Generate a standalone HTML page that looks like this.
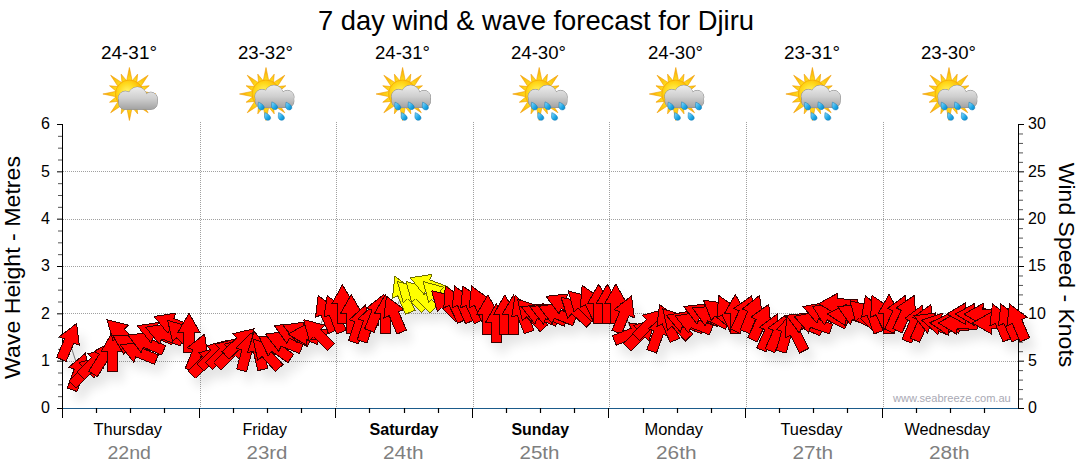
<!DOCTYPE html><html><head><meta charset="utf-8"><title>7 day wind &amp; wave forecast for Djiru</title>
<style>html,body{margin:0;padding:0;background:#fff;}body{width:1080px;height:475px;overflow:hidden;font-family:"Liberation Sans",sans-serif;}svg{display:block;}text{font-family:"Liberation Sans",sans-serif;}</style></head><body>
<svg width="1080" height="475" viewBox="0 0 1080 475">
<defs>
<filter id="sh" x="-5%" y="-30%" width="110%" height="180%"><feGaussianBlur stdDeviation="5.5"/></filter>
<radialGradient id="sunG" cx="0.42" cy="0.42" r="0.62"><stop offset="0" stop-color="#fff36a"/><stop offset="0.5" stop-color="#ffd81a"/><stop offset="1" stop-color="#fbaa00"/></radialGradient>
<radialGradient id="rayG" gradientUnits="userSpaceOnUse" cx="0" cy="0" r="27"><stop offset="0.5" stop-color="#ffdc1e"/><stop offset="1" stop-color="#f7a800"/></radialGradient>
<linearGradient id="cloudG" x1="0" y1="0" x2="0" y2="1"><stop offset="0" stop-color="#e4e4e4"/><stop offset="0.55" stop-color="#c4c4c4"/><stop offset="1" stop-color="#8f8f8f"/></linearGradient>
<linearGradient id="dropG" x1="0" y1="0" x2="1" y2="1"><stop offset="0" stop-color="#8fdcff"/><stop offset="0.6" stop-color="#1da7e6"/><stop offset="1" stop-color="#0b7fc0"/></linearGradient>
<path id="ar" d="M0,-19 L10.9,0 L5.1,0 L5.1,20 L-5.1,20 L-5.1,0 L-10.9,0 Z"/>
<g id="sun">
<path fill="url(#rayG)" stroke="#f09a00" stroke-width="0.6" stroke-linejoin="round" d="M-2.71,-13.33L0.00,-26.50L2.71,-13.33ZM2.83,-13.30L8.23,-19.86L7.41,-11.41ZM7.51,-11.34L18.74,-18.74L11.34,-7.51ZM11.41,-7.41L19.86,-8.23L13.30,-2.83ZM13.33,-2.71L26.50,0.00L13.33,2.71ZM13.30,2.83L19.86,8.23L11.41,7.41ZM11.34,7.51L18.74,18.74L7.51,11.34ZM7.41,11.41L8.23,19.86L2.83,13.30ZM2.71,13.33L0.00,26.50L-2.71,13.33ZM-2.83,13.30L-8.23,19.86L-7.41,11.41ZM-7.51,11.34L-18.74,18.74L-11.34,7.51ZM-11.41,7.41L-19.86,8.23L-13.30,2.83ZM-13.33,2.71L-26.50,0.00L-13.33,-2.71ZM-13.30,-2.83L-19.86,-8.23L-11.41,-7.41ZM-11.34,-7.51L-18.74,-18.74L-7.51,-11.34ZM-7.41,-11.41L-8.23,-19.86L-2.83,-13.30Z"/>
<circle r="14" fill="url(#sunG)" stroke="#f5a800" stroke-width="0.7"/>
</g>
<linearGradient id="cloudG2" gradientUnits="userSpaceOnUse" x1="0" y1="-7" x2="0" y2="15.5"><stop offset="0" stop-color="#ececec"/><stop offset="0.5" stop-color="#cfcfcf"/><stop offset="1" stop-color="#a2a2a2"/></linearGradient>
<g id="cloudshape"><circle cx="-4" cy="4.2" r="7"/><circle cx="8" cy="2.5" r="9.4"/><circle cx="21.4" cy="4.8" r="6.6"/><rect x="-10.6" y="2" width="38.4" height="13.3" rx="6" ry="6"/></g>
<g id="cloud">
<use href="#cloudshape" fill="#8d8d8d" stroke="#8d8d8d" stroke-width="1"/>
<use href="#cloudshape" fill="url(#cloudG2)"/>
</g>
<path id="drop" fill="url(#dropG)" stroke="#0e78b4" stroke-width="0.5" d="M-2.7,-3.9 C-0.8,-3.3 2.2,-1.6 3.0,0.6 C3.8,2.9 1.6,4.3 -0.4,3.7 C-2.6,3.1 -3.2,1.2 -3.0,-0.6 C-2.9,-1.8 -2.8,-2.9 -2.7,-3.9 Z"/>
</defs>
<use href="#sun" x="129.4" y="94"/>
<use href="#cloud" x="129.4" y="94"/>
<use href="#sun" x="266.0" y="94"/>
<use href="#cloud" x="266.0" y="92.2"/>
<use href="#drop" x="261.1" y="106.1"/>
<use href="#drop" x="274.5" y="105.8"/>
<use href="#drop" x="288.7" y="106.1"/>
<use href="#drop" x="267.5" y="116.5"/>
<use href="#drop" x="281.3" y="116.5"/>
<use href="#sun" x="402.6" y="94"/>
<use href="#cloud" x="402.6" y="92.2"/>
<use href="#drop" x="397.7" y="106.1"/>
<use href="#drop" x="411.1" y="105.8"/>
<use href="#drop" x="425.3" y="106.1"/>
<use href="#drop" x="404.1" y="116.5"/>
<use href="#drop" x="417.9" y="116.5"/>
<use href="#sun" x="539.2" y="94"/>
<use href="#cloud" x="539.2" y="92.2"/>
<use href="#drop" x="534.3" y="106.1"/>
<use href="#drop" x="547.7" y="105.8"/>
<use href="#drop" x="561.9" y="106.1"/>
<use href="#drop" x="540.7" y="116.5"/>
<use href="#drop" x="554.5" y="116.5"/>
<use href="#sun" x="675.8" y="94"/>
<use href="#cloud" x="675.8" y="92.2"/>
<use href="#drop" x="670.9" y="106.1"/>
<use href="#drop" x="684.3" y="105.8"/>
<use href="#drop" x="698.5" y="106.1"/>
<use href="#drop" x="677.3" y="116.5"/>
<use href="#drop" x="691.1" y="116.5"/>
<use href="#sun" x="812.4" y="94"/>
<use href="#cloud" x="812.4" y="92.2"/>
<use href="#drop" x="807.5" y="106.1"/>
<use href="#drop" x="820.9" y="105.8"/>
<use href="#drop" x="835.1" y="106.1"/>
<use href="#drop" x="813.9" y="116.5"/>
<use href="#drop" x="827.7" y="116.5"/>
<use href="#sun" x="949.0" y="94"/>
<use href="#cloud" x="949.0" y="92.2"/>
<use href="#drop" x="944.1" y="106.1"/>
<use href="#drop" x="957.5" y="105.8"/>
<use href="#drop" x="971.7" y="106.1"/>
<use href="#drop" x="950.5" y="116.5"/>
<use href="#drop" x="964.3" y="116.5"/>
<line x1="63" x2="1018" y1="361.5" y2="361.5" stroke="#a0a0a0" stroke-width="1" stroke-dasharray="1,1" shape-rendering="crispEdges"/>
<line x1="63" x2="1018" y1="313.5" y2="313.5" stroke="#a0a0a0" stroke-width="1" stroke-dasharray="1,1" shape-rendering="crispEdges"/>
<line x1="63" x2="1018" y1="266.5" y2="266.5" stroke="#a0a0a0" stroke-width="1" stroke-dasharray="1,1" shape-rendering="crispEdges"/>
<line x1="63" x2="1018" y1="219.5" y2="219.5" stroke="#a0a0a0" stroke-width="1" stroke-dasharray="1,1" shape-rendering="crispEdges"/>
<line x1="63" x2="1018" y1="171.5" y2="171.5" stroke="#a0a0a0" stroke-width="1" stroke-dasharray="1,1" shape-rendering="crispEdges"/>
<line x1="200.5" x2="200.5" y1="122" y2="408" stroke="#a0a0a0" stroke-width="1" stroke-dasharray="1,1" shape-rendering="crispEdges"/>
<line x1="336.5" x2="336.5" y1="122" y2="408" stroke="#a0a0a0" stroke-width="1" stroke-dasharray="1,1" shape-rendering="crispEdges"/>
<line x1="473.5" x2="473.5" y1="122" y2="408" stroke="#a0a0a0" stroke-width="1" stroke-dasharray="1,1" shape-rendering="crispEdges"/>
<line x1="609.5" x2="609.5" y1="122" y2="408" stroke="#a0a0a0" stroke-width="1" stroke-dasharray="1,1" shape-rendering="crispEdges"/>
<line x1="746.5" x2="746.5" y1="122" y2="408" stroke="#a0a0a0" stroke-width="1" stroke-dasharray="1,1" shape-rendering="crispEdges"/>
<line x1="883.5" x2="883.5" y1="122" y2="408" stroke="#a0a0a0" stroke-width="1" stroke-dasharray="1,1" shape-rendering="crispEdges"/>
<line x1="62" x2="1019" y1="408.5" y2="408.5" stroke="#1b5b8b" stroke-width="1"/>
<line x1="62.5" x2="62.5" y1="124" y2="409" stroke="#000" stroke-width="1"/>
<line x1="1018.5" x2="1018.5" y1="124" y2="409" stroke="#000" stroke-width="1"/>
<line x1="57" x2="63" y1="408.50" y2="408.50" stroke="#000" stroke-width="1"/>
<text x="50" y="413.4" font-size="16" text-anchor="end" fill="#000">0</text>
<line x1="58" x2="62" y1="396.67" y2="396.67" stroke="#555" stroke-width="1"/>
<line x1="58" x2="62" y1="384.83" y2="384.83" stroke="#555" stroke-width="1"/>
<line x1="58" x2="62" y1="373.00" y2="373.00" stroke="#555" stroke-width="1"/>
<line x1="57" x2="63" y1="361.17" y2="361.17" stroke="#000" stroke-width="1"/>
<text x="50" y="366.1" font-size="16" text-anchor="end" fill="#000">1</text>
<line x1="58" x2="62" y1="349.33" y2="349.33" stroke="#555" stroke-width="1"/>
<line x1="58" x2="62" y1="337.50" y2="337.50" stroke="#555" stroke-width="1"/>
<line x1="58" x2="62" y1="325.67" y2="325.67" stroke="#555" stroke-width="1"/>
<line x1="57" x2="63" y1="313.83" y2="313.83" stroke="#000" stroke-width="1"/>
<text x="50" y="318.7" font-size="16" text-anchor="end" fill="#000">2</text>
<line x1="58" x2="62" y1="302.00" y2="302.00" stroke="#555" stroke-width="1"/>
<line x1="58" x2="62" y1="290.17" y2="290.17" stroke="#555" stroke-width="1"/>
<line x1="58" x2="62" y1="278.33" y2="278.33" stroke="#555" stroke-width="1"/>
<line x1="57" x2="63" y1="266.50" y2="266.50" stroke="#000" stroke-width="1"/>
<text x="50" y="271.4" font-size="16" text-anchor="end" fill="#000">3</text>
<line x1="58" x2="62" y1="254.67" y2="254.67" stroke="#555" stroke-width="1"/>
<line x1="58" x2="62" y1="242.83" y2="242.83" stroke="#555" stroke-width="1"/>
<line x1="58" x2="62" y1="231.00" y2="231.00" stroke="#555" stroke-width="1"/>
<line x1="57" x2="63" y1="219.17" y2="219.17" stroke="#000" stroke-width="1"/>
<text x="50" y="224.1" font-size="16" text-anchor="end" fill="#000">4</text>
<line x1="58" x2="62" y1="207.33" y2="207.33" stroke="#555" stroke-width="1"/>
<line x1="58" x2="62" y1="195.50" y2="195.50" stroke="#555" stroke-width="1"/>
<line x1="58" x2="62" y1="183.67" y2="183.67" stroke="#555" stroke-width="1"/>
<line x1="57" x2="63" y1="171.83" y2="171.83" stroke="#000" stroke-width="1"/>
<text x="50" y="176.7" font-size="16" text-anchor="end" fill="#000">5</text>
<line x1="58" x2="62" y1="160.00" y2="160.00" stroke="#555" stroke-width="1"/>
<line x1="58" x2="62" y1="148.17" y2="148.17" stroke="#555" stroke-width="1"/>
<line x1="58" x2="62" y1="136.33" y2="136.33" stroke="#555" stroke-width="1"/>
<line x1="57" x2="63" y1="124.50" y2="124.50" stroke="#000" stroke-width="1"/>
<text x="50" y="129.4" font-size="16" text-anchor="end" fill="#000">6</text>
<line x1="1018" x2="1024" y1="408.50" y2="408.50" stroke="#000" stroke-width="1"/>
<text x="1028" y="413.4" font-size="16" text-anchor="start" fill="#000">0</text>
<line x1="1019" x2="1023" y1="399.03" y2="399.03" stroke="#555" stroke-width="1"/>
<line x1="1019" x2="1023" y1="389.57" y2="389.57" stroke="#555" stroke-width="1"/>
<line x1="1019" x2="1023" y1="380.10" y2="380.10" stroke="#555" stroke-width="1"/>
<line x1="1019" x2="1023" y1="370.63" y2="370.63" stroke="#555" stroke-width="1"/>
<line x1="1018" x2="1024" y1="361.17" y2="361.17" stroke="#000" stroke-width="1"/>
<text x="1028" y="366.1" font-size="16" text-anchor="start" fill="#000">5</text>
<line x1="1019" x2="1023" y1="351.70" y2="351.70" stroke="#555" stroke-width="1"/>
<line x1="1019" x2="1023" y1="342.23" y2="342.23" stroke="#555" stroke-width="1"/>
<line x1="1019" x2="1023" y1="332.77" y2="332.77" stroke="#555" stroke-width="1"/>
<line x1="1019" x2="1023" y1="323.30" y2="323.30" stroke="#555" stroke-width="1"/>
<line x1="1018" x2="1024" y1="313.83" y2="313.83" stroke="#000" stroke-width="1"/>
<text x="1028" y="318.7" font-size="16" text-anchor="start" fill="#000">10</text>
<line x1="1019" x2="1023" y1="304.37" y2="304.37" stroke="#555" stroke-width="1"/>
<line x1="1019" x2="1023" y1="294.90" y2="294.90" stroke="#555" stroke-width="1"/>
<line x1="1019" x2="1023" y1="285.43" y2="285.43" stroke="#555" stroke-width="1"/>
<line x1="1019" x2="1023" y1="275.97" y2="275.97" stroke="#555" stroke-width="1"/>
<line x1="1018" x2="1024" y1="266.50" y2="266.50" stroke="#000" stroke-width="1"/>
<text x="1028" y="271.4" font-size="16" text-anchor="start" fill="#000">15</text>
<line x1="1019" x2="1023" y1="257.03" y2="257.03" stroke="#555" stroke-width="1"/>
<line x1="1019" x2="1023" y1="247.57" y2="247.57" stroke="#555" stroke-width="1"/>
<line x1="1019" x2="1023" y1="238.10" y2="238.10" stroke="#555" stroke-width="1"/>
<line x1="1019" x2="1023" y1="228.63" y2="228.63" stroke="#555" stroke-width="1"/>
<line x1="1018" x2="1024" y1="219.17" y2="219.17" stroke="#000" stroke-width="1"/>
<text x="1028" y="224.1" font-size="16" text-anchor="start" fill="#000">20</text>
<line x1="1019" x2="1023" y1="209.70" y2="209.70" stroke="#555" stroke-width="1"/>
<line x1="1019" x2="1023" y1="200.23" y2="200.23" stroke="#555" stroke-width="1"/>
<line x1="1019" x2="1023" y1="190.77" y2="190.77" stroke="#555" stroke-width="1"/>
<line x1="1019" x2="1023" y1="181.30" y2="181.30" stroke="#555" stroke-width="1"/>
<line x1="1018" x2="1024" y1="171.83" y2="171.83" stroke="#000" stroke-width="1"/>
<text x="1028" y="176.7" font-size="16" text-anchor="start" fill="#000">25</text>
<line x1="1019" x2="1023" y1="162.37" y2="162.37" stroke="#555" stroke-width="1"/>
<line x1="1019" x2="1023" y1="152.90" y2="152.90" stroke="#555" stroke-width="1"/>
<line x1="1019" x2="1023" y1="143.43" y2="143.43" stroke="#555" stroke-width="1"/>
<line x1="1019" x2="1023" y1="133.97" y2="133.97" stroke="#555" stroke-width="1"/>
<line x1="1018" x2="1024" y1="124.50" y2="124.50" stroke="#000" stroke-width="1"/>
<text x="1028" y="129.4" font-size="16" text-anchor="start" fill="#000">30</text>
<g filter="url(#sh)" opacity="0.105" fill="#000">
<use href="#ar" transform="translate(75.2,351.0) rotate(23.0)"/>
<use href="#ar" transform="translate(85.0,381.0) rotate(20.0)"/>
<use href="#ar" transform="translate(92.6,380.4) rotate(45.0)"/>
<use href="#ar" transform="translate(101.1,371.6) rotate(45.0)"/>
<use href="#ar" transform="translate(109.6,367.0) rotate(32.0)"/>
<use href="#ar" transform="translate(118.2,361.3) rotate(0.0)"/>
<use href="#ar" transform="translate(126.7,343.0) rotate(-46.0)"/>
<use href="#ar" transform="translate(135.3,355.0) rotate(-60.0)"/>
<use href="#ar" transform="translate(143.8,362.1) rotate(-68.0)"/>
<use href="#ar" transform="translate(151.3,352.5) rotate(-67.0)"/>
<use href="#ar" transform="translate(160.9,342.6) rotate(-69.0)"/>
<use href="#ar" transform="translate(169.4,344.0) rotate(-69.0)"/>
<use href="#ar" transform="translate(177.9,333.3) rotate(-69.0)"/>
<use href="#ar" transform="translate(186.5,344.1) rotate(-43.0)"/>
<use href="#ar" transform="translate(195.0,342.2) rotate(0.0)"/>
<use href="#ar" transform="translate(203.5,361.7) rotate(22.0)"/>
<use href="#ar" transform="translate(212.1,370.6) rotate(45.0)"/>
<use href="#ar" transform="translate(220.6,363.5) rotate(45.0)"/>
<use href="#ar" transform="translate(229.1,362.0) rotate(45.0)"/>
<use href="#ar" transform="translate(237.7,362.0) rotate(45.0)"/>
<use href="#ar" transform="translate(246.2,351.7) rotate(47.0)"/>
<use href="#ar" transform="translate(252.8,361.0) rotate(15.0)"/>
<use href="#ar" transform="translate(264.3,360.0) rotate(-13.0)"/>
<use href="#ar" transform="translate(271.8,363.1) rotate(-42.0)"/>
<use href="#ar" transform="translate(280.4,357.0) rotate(-55.0)"/>
<use href="#ar" transform="translate(288.9,351.3) rotate(-68.0)"/>
<use href="#ar" transform="translate(297.4,343.5) rotate(-65.0)"/>
<use href="#ar" transform="translate(306.5,342.2) rotate(-68.0)"/>
<use href="#ar" transform="translate(313.0,344.5) rotate(-89.0)"/>
<use href="#ar" transform="translate(323.0,343.0) rotate(-45.0)"/>
<use href="#ar" transform="translate(331.6,323.0) rotate(-23.0)"/>
<use href="#ar" transform="translate(340.1,323.2) rotate(-21.0)"/>
<use href="#ar" transform="translate(348.7,313.8) rotate(-1.0)"/>
<use href="#ar" transform="translate(357.2,323.7) rotate(0.0)"/>
<use href="#ar" transform="translate(365.7,333.1) rotate(18.0)"/>
<use href="#ar" transform="translate(374.3,332.3) rotate(18.0)"/>
<use href="#ar" transform="translate(382.8,322.0) rotate(22.0)"/>
<use href="#ar" transform="translate(391.3,323.5) rotate(0.0)"/>
<use href="#ar" transform="translate(399.9,323.7) rotate(-23.0)"/>
<use href="#ar" transform="translate(408.4,303.9) rotate(-23.0)"/>
<use href="#ar" transform="translate(416.9,305.0) rotate(-45.0)"/>
<use href="#ar" transform="translate(425.5,305.0) rotate(-45.0)"/>
<use href="#ar" transform="translate(434.0,294.6) rotate(-69.0)"/>
<use href="#ar" transform="translate(442.5,305.0) rotate(-45.0)"/>
<use href="#ar" transform="translate(451.1,314.0) rotate(-45.0)"/>
<use href="#ar" transform="translate(459.6,313.1) rotate(-26.0)"/>
<use href="#ar" transform="translate(468.2,313.4) rotate(-23.6)"/>
<use href="#ar" transform="translate(476.7,313.4) rotate(-24.0)"/>
<use href="#ar" transform="translate(485.2,313.4) rotate(-24.0)"/>
<use href="#ar" transform="translate(493.8,324.0) rotate(0.0)"/>
<use href="#ar" transform="translate(502.3,332.5) rotate(0.0)"/>
<use href="#ar" transform="translate(510.8,324.0) rotate(0.0)"/>
<use href="#ar" transform="translate(519.4,324.0) rotate(0.0)"/>
<use href="#ar" transform="translate(527.9,323.3) rotate(-21.0)"/>
<use href="#ar" transform="translate(536.4,323.4) rotate(-42.5)"/>
<use href="#ar" transform="translate(545.0,324.0) rotate(-68.0)"/>
<use href="#ar" transform="translate(553.5,324.0) rotate(-68.0)"/>
<use href="#ar" transform="translate(562.1,323.5) rotate(-68.0)"/>
<use href="#ar" transform="translate(569.4,314.0) rotate(-66.0)"/>
<use href="#ar" transform="translate(581.1,320.0) rotate(-48.0)"/>
<use href="#ar" transform="translate(587.7,314.3) rotate(-45.0)"/>
<use href="#ar" transform="translate(596.2,312.6) rotate(-25.0)"/>
<use href="#ar" transform="translate(604.7,313.2) rotate(0.0)"/>
<use href="#ar" transform="translate(613.3,313.2) rotate(0.0)"/>
<use href="#ar" transform="translate(621.8,313.2) rotate(0.0)"/>
<use href="#ar" transform="translate(630.3,323.7) rotate(22.0)"/>
<use href="#ar" transform="translate(638.9,343.0) rotate(68.0)"/>
<use href="#ar" transform="translate(647.4,343.0) rotate(45.0)"/>
<use href="#ar" transform="translate(655.9,333.0) rotate(45.0)"/>
<use href="#ar" transform="translate(664.5,342.5) rotate(20.0)"/>
<use href="#ar" transform="translate(673.0,332.0) rotate(-23.0)"/>
<use href="#ar" transform="translate(681.6,332.8) rotate(-42.5)"/>
<use href="#ar" transform="translate(690.1,331.8) rotate(-70.0)"/>
<use href="#ar" transform="translate(698.6,332.8) rotate(-68.6)"/>
<use href="#ar" transform="translate(707.2,324.0) rotate(-67.0)"/>
<use href="#ar" transform="translate(715.7,326.0) rotate(-65.0)"/>
<use href="#ar" transform="translate(724.2,322.0) rotate(-51.0)"/>
<use href="#ar" transform="translate(732.8,322.7) rotate(-25.0)"/>
<use href="#ar" transform="translate(741.3,323.5) rotate(0.0)"/>
<use href="#ar" transform="translate(749.8,323.0) rotate(25.0)"/>
<use href="#ar" transform="translate(758.4,323.1) rotate(22.0)"/>
<use href="#ar" transform="translate(766.9,331.6) rotate(24.6)"/>
<use href="#ar" transform="translate(775.5,341.6) rotate(23.6)"/>
<use href="#ar" transform="translate(784.0,342.4) rotate(24.0)"/>
<use href="#ar" transform="translate(792.5,342.4) rotate(15.0)"/>
<use href="#ar" transform="translate(801.1,342.8) rotate(-26.6)"/>
<use href="#ar" transform="translate(809.6,333.0) rotate(-66.0)"/>
<use href="#ar" transform="translate(818.1,332.5) rotate(-71.0)"/>
<use href="#ar" transform="translate(826.7,323.0) rotate(-70.0)"/>
<use href="#ar" transform="translate(835.2,325.0) rotate(-62.0)"/>
<use href="#ar" transform="translate(843.7,314.0) rotate(-89.0)"/>
<use href="#ar" transform="translate(852.3,325.0) rotate(-87.0)"/>
<use href="#ar" transform="translate(860.8,324.6) rotate(-65.0)"/>
<use href="#ar" transform="translate(869.3,324.0) rotate(-45.0)"/>
<use href="#ar" transform="translate(877.9,323.4) rotate(-20.0)"/>
<use href="#ar" transform="translate(886.4,322.6) rotate(-26.0)"/>
<use href="#ar" transform="translate(895.0,323.5) rotate(0.0)"/>
<use href="#ar" transform="translate(903.5,322.9) rotate(24.0)"/>
<use href="#ar" transform="translate(912.0,322.6) rotate(25.6)"/>
<use href="#ar" transform="translate(920.6,332.8) rotate(23.3)"/>
<use href="#ar" transform="translate(929.1,331.9) rotate(24.0)"/>
<use href="#ar" transform="translate(937.6,333.0) rotate(-68.0)"/>
<use href="#ar" transform="translate(946.2,334.0) rotate(-78.0)"/>
<use href="#ar" transform="translate(954.7,334.2) rotate(-86.0)"/>
<use href="#ar" transform="translate(963.2,333.5) rotate(-88.0)"/>
<use href="#ar" transform="translate(971.8,323.7) rotate(-91.0)"/>
<use href="#ar" transform="translate(980.3,324.4) rotate(-89.0)"/>
<use href="#ar" transform="translate(988.9,324.4) rotate(-89.0)"/>
<use href="#ar" transform="translate(997.4,333.0) rotate(-90.0)"/>
<use href="#ar" transform="translate(1005.9,331.5) rotate(-23.2)"/>
<use href="#ar" transform="translate(1014.5,331.4) rotate(-23.9)"/>
<use href="#ar" transform="translate(1023.0,331.5) rotate(-23.2)"/>
</g>
<polyline points="69.2,341.0 79.0,371.0 86.6,370.4 95.1,361.6 103.6,357.0 112.2,351.3 120.7,333.0 129.3,345.0 137.8,352.1 145.3,342.5 154.9,332.6 163.4,334.0 171.9,323.3 180.5,334.1 189.0,332.2 197.5,351.7 206.1,360.6 214.6,353.5 223.1,352.0 231.7,352.0 240.2,341.7 246.8,351.0 258.3,350.0 265.8,353.1 274.4,347.0 282.9,341.3 291.4,333.5 300.5,332.2 307.0,334.5 317.0,333.0 325.6,313.0 334.1,313.2 342.7,303.8 351.2,313.7 359.7,323.1 368.3,322.3 376.8,312.0 385.3,313.5 393.9,313.7 402.4,293.9 410.9,295.0 419.5,295.0 428.0,284.6 436.5,295.0 445.1,304.0 453.6,303.1 462.2,303.4 470.7,303.4 479.2,303.4 487.8,314.0 496.3,322.5 504.8,314.0 513.4,314.0 521.9,313.3 530.4,313.4 539.0,314.0 547.5,314.0 556.1,313.5 563.4,304.0 575.1,310.0 581.7,304.3 590.2,302.6 598.7,303.2 607.3,303.2 615.8,303.2 624.3,313.7 632.9,333.0 641.4,333.0 649.9,323.0 658.5,332.5 667.0,322.0 675.6,322.8 684.1,321.8 692.6,322.8 701.2,314.0 709.7,316.0 718.2,312.0 726.8,312.7 735.3,313.5 743.8,313.0 752.4,313.1 760.9,321.6 769.5,331.6 778.0,332.4 786.5,332.4 795.1,332.8 803.6,323.0 812.1,322.5 820.7,313.0 829.2,315.0 837.7,304.0 846.3,315.0 854.8,314.6 863.3,314.0 871.9,313.4 880.4,312.6 889.0,313.5 897.5,312.9 906.0,312.6 914.6,322.8 923.1,321.9 931.6,323.0 940.2,324.0 948.7,324.2 957.2,323.5 965.8,313.7 974.3,314.4 982.9,314.4 991.4,323.0 999.9,321.5 1008.5,321.4 1017.0,321.5" fill="none" stroke="#777" stroke-width="1"/>
<g stroke="#380000" stroke-width="1" stroke-linejoin="miter" shape-rendering="crispEdges">
<use href="#ar" fill="#ff0000" transform="translate(69.2,341.0) rotate(23.0)"/>
<use href="#ar" fill="#ff0000" transform="translate(79.0,371.0) rotate(20.0)"/>
<use href="#ar" fill="#ff0000" transform="translate(86.6,370.4) rotate(45.0)"/>
<use href="#ar" fill="#ff0000" transform="translate(95.1,361.6) rotate(45.0)"/>
<use href="#ar" fill="#ff0000" transform="translate(103.6,357.0) rotate(32.0)"/>
<use href="#ar" fill="#ff0000" transform="translate(112.2,351.3) rotate(0.0)"/>
<use href="#ar" fill="#ff0000" transform="translate(120.7,333.0) rotate(-46.0)"/>
<use href="#ar" fill="#ff0000" transform="translate(129.3,345.0) rotate(-60.0)"/>
<use href="#ar" fill="#ff0000" transform="translate(137.8,352.1) rotate(-68.0)"/>
<use href="#ar" fill="#ff0000" transform="translate(145.3,342.5) rotate(-67.0)"/>
<use href="#ar" fill="#ff0000" transform="translate(154.9,332.6) rotate(-69.0)"/>
<use href="#ar" fill="#ff0000" transform="translate(163.4,334.0) rotate(-69.0)"/>
<use href="#ar" fill="#ff0000" transform="translate(171.9,323.3) rotate(-69.0)"/>
<use href="#ar" fill="#ff0000" transform="translate(180.5,334.1) rotate(-43.0)"/>
<use href="#ar" fill="#ff0000" transform="translate(189.0,332.2) rotate(0.0)"/>
<use href="#ar" fill="#ff0000" transform="translate(197.5,351.7) rotate(22.0)"/>
<use href="#ar" fill="#ff0000" transform="translate(206.1,360.6) rotate(45.0)"/>
<use href="#ar" fill="#ff0000" transform="translate(214.6,353.5) rotate(45.0)"/>
<use href="#ar" fill="#ff0000" transform="translate(223.1,352.0) rotate(45.0)"/>
<use href="#ar" fill="#ff0000" transform="translate(231.7,352.0) rotate(45.0)"/>
<use href="#ar" fill="#ff0000" transform="translate(240.2,341.7) rotate(47.0)"/>
<use href="#ar" fill="#ff0000" transform="translate(246.8,351.0) rotate(15.0)"/>
<use href="#ar" fill="#ff0000" transform="translate(258.3,350.0) rotate(-13.0)"/>
<use href="#ar" fill="#ff0000" transform="translate(265.8,353.1) rotate(-42.0)"/>
<use href="#ar" fill="#ff0000" transform="translate(274.4,347.0) rotate(-55.0)"/>
<use href="#ar" fill="#ff0000" transform="translate(282.9,341.3) rotate(-68.0)"/>
<use href="#ar" fill="#ff0000" transform="translate(291.4,333.5) rotate(-65.0)"/>
<use href="#ar" fill="#ff0000" transform="translate(300.5,332.2) rotate(-68.0)"/>
<use href="#ar" fill="#ff0000" transform="translate(307.0,334.5) rotate(-89.0)"/>
<use href="#ar" fill="#ff0000" transform="translate(317.0,333.0) rotate(-45.0)"/>
<use href="#ar" fill="#ff0000" transform="translate(325.6,313.0) rotate(-23.0)"/>
<use href="#ar" fill="#ff0000" transform="translate(334.1,313.2) rotate(-21.0)"/>
<use href="#ar" fill="#ff0000" transform="translate(342.7,303.8) rotate(-1.0)"/>
<use href="#ar" fill="#ff0000" transform="translate(351.2,313.7) rotate(0.0)"/>
<use href="#ar" fill="#ff0000" transform="translate(359.7,323.1) rotate(18.0)"/>
<use href="#ar" fill="#ff0000" transform="translate(368.3,322.3) rotate(18.0)"/>
<use href="#ar" fill="#ff0000" transform="translate(376.8,312.0) rotate(22.0)"/>
<use href="#ar" fill="#ff0000" transform="translate(385.3,313.5) rotate(0.0)"/>
<use href="#ar" fill="#ff0000" transform="translate(393.9,313.7) rotate(-23.0)"/>
<use href="#ar" fill="#ffff00" stroke="#6b6b00" transform="translate(402.4,293.9) rotate(-23.0)"/>
<use href="#ar" fill="#ffff00" stroke="#6b6b00" transform="translate(410.9,295.0) rotate(-45.0)"/>
<use href="#ar" fill="#ffff00" stroke="#6b6b00" transform="translate(419.5,295.0) rotate(-45.0)"/>
<use href="#ar" fill="#ffff00" stroke="#6b6b00" transform="translate(428.0,284.6) rotate(-69.0)"/>
<use href="#ar" fill="#ffff00" stroke="#6b6b00" transform="translate(436.5,295.0) rotate(-45.0)"/>
<use href="#ar" fill="#ff0000" transform="translate(445.1,304.0) rotate(-45.0)"/>
<use href="#ar" fill="#ff0000" transform="translate(453.6,303.1) rotate(-26.0)"/>
<use href="#ar" fill="#ff0000" transform="translate(462.2,303.4) rotate(-23.6)"/>
<use href="#ar" fill="#ff0000" transform="translate(470.7,303.4) rotate(-24.0)"/>
<use href="#ar" fill="#ff0000" transform="translate(479.2,303.4) rotate(-24.0)"/>
<use href="#ar" fill="#ff0000" transform="translate(487.8,314.0) rotate(0.0)"/>
<use href="#ar" fill="#ff0000" transform="translate(496.3,322.5) rotate(0.0)"/>
<use href="#ar" fill="#ff0000" transform="translate(504.8,314.0) rotate(0.0)"/>
<use href="#ar" fill="#ff0000" transform="translate(513.4,314.0) rotate(0.0)"/>
<use href="#ar" fill="#ff0000" transform="translate(521.9,313.3) rotate(-21.0)"/>
<use href="#ar" fill="#ff0000" transform="translate(530.4,313.4) rotate(-42.5)"/>
<use href="#ar" fill="#ff0000" transform="translate(539.0,314.0) rotate(-68.0)"/>
<use href="#ar" fill="#ff0000" transform="translate(547.5,314.0) rotate(-68.0)"/>
<use href="#ar" fill="#ff0000" transform="translate(556.1,313.5) rotate(-68.0)"/>
<use href="#ar" fill="#ff0000" transform="translate(563.4,304.0) rotate(-66.0)"/>
<use href="#ar" fill="#ff0000" transform="translate(575.1,310.0) rotate(-48.0)"/>
<use href="#ar" fill="#ff0000" transform="translate(581.7,304.3) rotate(-45.0)"/>
<use href="#ar" fill="#ff0000" transform="translate(590.2,302.6) rotate(-25.0)"/>
<use href="#ar" fill="#ff0000" transform="translate(598.7,303.2) rotate(0.0)"/>
<use href="#ar" fill="#ff0000" transform="translate(607.3,303.2) rotate(0.0)"/>
<use href="#ar" fill="#ff0000" transform="translate(615.8,303.2) rotate(0.0)"/>
<use href="#ar" fill="#ff0000" transform="translate(624.3,313.7) rotate(22.0)"/>
<use href="#ar" fill="#ff0000" transform="translate(632.9,333.0) rotate(68.0)"/>
<use href="#ar" fill="#ff0000" transform="translate(641.4,333.0) rotate(45.0)"/>
<use href="#ar" fill="#ff0000" transform="translate(649.9,323.0) rotate(45.0)"/>
<use href="#ar" fill="#ff0000" transform="translate(658.5,332.5) rotate(20.0)"/>
<use href="#ar" fill="#ff0000" transform="translate(667.0,322.0) rotate(-23.0)"/>
<use href="#ar" fill="#ff0000" transform="translate(675.6,322.8) rotate(-42.5)"/>
<use href="#ar" fill="#ff0000" transform="translate(684.1,321.8) rotate(-70.0)"/>
<use href="#ar" fill="#ff0000" transform="translate(692.6,322.8) rotate(-68.6)"/>
<use href="#ar" fill="#ff0000" transform="translate(701.2,314.0) rotate(-67.0)"/>
<use href="#ar" fill="#ff0000" transform="translate(709.7,316.0) rotate(-65.0)"/>
<use href="#ar" fill="#ff0000" transform="translate(718.2,312.0) rotate(-51.0)"/>
<use href="#ar" fill="#ff0000" transform="translate(726.8,312.7) rotate(-25.0)"/>
<use href="#ar" fill="#ff0000" transform="translate(735.3,313.5) rotate(0.0)"/>
<use href="#ar" fill="#ff0000" transform="translate(743.8,313.0) rotate(25.0)"/>
<use href="#ar" fill="#ff0000" transform="translate(752.4,313.1) rotate(22.0)"/>
<use href="#ar" fill="#ff0000" transform="translate(760.9,321.6) rotate(24.6)"/>
<use href="#ar" fill="#ff0000" transform="translate(769.5,331.6) rotate(23.6)"/>
<use href="#ar" fill="#ff0000" transform="translate(778.0,332.4) rotate(24.0)"/>
<use href="#ar" fill="#ff0000" transform="translate(786.5,332.4) rotate(15.0)"/>
<use href="#ar" fill="#ff0000" transform="translate(795.1,332.8) rotate(-26.6)"/>
<use href="#ar" fill="#ff0000" transform="translate(803.6,323.0) rotate(-66.0)"/>
<use href="#ar" fill="#ff0000" transform="translate(812.1,322.5) rotate(-71.0)"/>
<use href="#ar" fill="#ff0000" transform="translate(820.7,313.0) rotate(-70.0)"/>
<use href="#ar" fill="#ff0000" transform="translate(829.2,315.0) rotate(-62.0)"/>
<use href="#ar" fill="#ff0000" transform="translate(837.7,304.0) rotate(-89.0)"/>
<use href="#ar" fill="#ff0000" transform="translate(846.3,315.0) rotate(-87.0)"/>
<use href="#ar" fill="#ff0000" transform="translate(854.8,314.6) rotate(-65.0)"/>
<use href="#ar" fill="#ff0000" transform="translate(863.3,314.0) rotate(-45.0)"/>
<use href="#ar" fill="#ff0000" transform="translate(871.9,313.4) rotate(-20.0)"/>
<use href="#ar" fill="#ff0000" transform="translate(880.4,312.6) rotate(-26.0)"/>
<use href="#ar" fill="#ff0000" transform="translate(889.0,313.5) rotate(0.0)"/>
<use href="#ar" fill="#ff0000" transform="translate(897.5,312.9) rotate(24.0)"/>
<use href="#ar" fill="#ff0000" transform="translate(906.0,312.6) rotate(25.6)"/>
<use href="#ar" fill="#ff0000" transform="translate(914.6,322.8) rotate(23.3)"/>
<use href="#ar" fill="#ff0000" transform="translate(923.1,321.9) rotate(24.0)"/>
<use href="#ar" fill="#ff0000" transform="translate(931.6,323.0) rotate(-68.0)"/>
<use href="#ar" fill="#ff0000" transform="translate(940.2,324.0) rotate(-78.0)"/>
<use href="#ar" fill="#ff0000" transform="translate(948.7,324.2) rotate(-86.0)"/>
<use href="#ar" fill="#ff0000" transform="translate(957.2,323.5) rotate(-88.0)"/>
<use href="#ar" fill="#ff0000" transform="translate(965.8,313.7) rotate(-91.0)"/>
<use href="#ar" fill="#ff0000" transform="translate(974.3,314.4) rotate(-89.0)"/>
<use href="#ar" fill="#ff0000" transform="translate(982.9,314.4) rotate(-89.0)"/>
<use href="#ar" fill="#ff0000" transform="translate(991.4,323.0) rotate(-90.0)"/>
<use href="#ar" fill="#ff0000" transform="translate(999.9,321.5) rotate(-23.2)"/>
<use href="#ar" fill="#ff0000" transform="translate(1008.5,321.4) rotate(-23.9)"/>
<use href="#ar" fill="#ff0000" transform="translate(1017.0,321.5) rotate(-23.2)"/>
</g>
<line x1="62.5" x2="62.5" y1="408" y2="418" stroke="#000" stroke-width="1"/>
<line x1="96.5" x2="96.5" y1="408" y2="413" stroke="#000" stroke-width="1.2"/>
<line x1="130.5" x2="130.5" y1="408" y2="413" stroke="#000" stroke-width="1.2"/>
<line x1="164.5" x2="164.5" y1="408" y2="413" stroke="#000" stroke-width="1.2"/>
<line x1="199.5" x2="199.5" y1="408" y2="418" stroke="#000" stroke-width="1"/>
<line x1="233.5" x2="233.5" y1="408" y2="413" stroke="#000" stroke-width="1.2"/>
<line x1="267.5" x2="267.5" y1="408" y2="413" stroke="#000" stroke-width="1.2"/>
<line x1="301.5" x2="301.5" y1="408" y2="413" stroke="#000" stroke-width="1.2"/>
<line x1="335.5" x2="335.5" y1="408" y2="418" stroke="#000" stroke-width="1"/>
<line x1="369.5" x2="369.5" y1="408" y2="413" stroke="#000" stroke-width="1.2"/>
<line x1="404.5" x2="404.5" y1="408" y2="413" stroke="#000" stroke-width="1.2"/>
<line x1="438.5" x2="438.5" y1="408" y2="413" stroke="#000" stroke-width="1.2"/>
<line x1="472.5" x2="472.5" y1="408" y2="418" stroke="#000" stroke-width="1"/>
<line x1="506.5" x2="506.5" y1="408" y2="413" stroke="#000" stroke-width="1.2"/>
<line x1="540.5" x2="540.5" y1="408" y2="413" stroke="#000" stroke-width="1.2"/>
<line x1="574.5" x2="574.5" y1="408" y2="413" stroke="#000" stroke-width="1.2"/>
<line x1="608.5" x2="608.5" y1="408" y2="418" stroke="#000" stroke-width="1"/>
<line x1="643.5" x2="643.5" y1="408" y2="413" stroke="#000" stroke-width="1.2"/>
<line x1="677.5" x2="677.5" y1="408" y2="413" stroke="#000" stroke-width="1.2"/>
<line x1="711.5" x2="711.5" y1="408" y2="413" stroke="#000" stroke-width="1.2"/>
<line x1="745.5" x2="745.5" y1="408" y2="418" stroke="#000" stroke-width="1"/>
<line x1="779.5" x2="779.5" y1="408" y2="413" stroke="#000" stroke-width="1.2"/>
<line x1="813.5" x2="813.5" y1="408" y2="413" stroke="#000" stroke-width="1.2"/>
<line x1="847.5" x2="847.5" y1="408" y2="413" stroke="#000" stroke-width="1.2"/>
<line x1="882.5" x2="882.5" y1="408" y2="418" stroke="#000" stroke-width="1"/>
<line x1="916.5" x2="916.5" y1="408" y2="413" stroke="#000" stroke-width="1.2"/>
<line x1="950.5" x2="950.5" y1="408" y2="413" stroke="#000" stroke-width="1.2"/>
<line x1="984.5" x2="984.5" y1="408" y2="413" stroke="#000" stroke-width="1.2"/>
<text x="318.00" y="29.5" font-size="27.5" textLength="436.00" lengthAdjust="spacingAndGlyphs" fill="#000">7 day wind &amp; wave forecast for Djiru</text>
<text x="101.00" y="59" font-size="17.5" textLength="56.00" lengthAdjust="spacingAndGlyphs" fill="#000">24-31°</text>
<text x="238.00" y="59" font-size="17.5" textLength="55.00" lengthAdjust="spacingAndGlyphs" fill="#000">23-32°</text>
<text x="375.00" y="59" font-size="17.5" textLength="55.00" lengthAdjust="spacingAndGlyphs" fill="#000">24-31°</text>
<text x="511.00" y="59" font-size="17.5" textLength="55.00" lengthAdjust="spacingAndGlyphs" fill="#000">24-30°</text>
<text x="648.00" y="59" font-size="17.5" textLength="55.00" lengthAdjust="spacingAndGlyphs" fill="#000">24-30°</text>
<text x="784.00" y="59" font-size="17.5" textLength="56.00" lengthAdjust="spacingAndGlyphs" fill="#000">23-31°</text>
<text x="921.00" y="59" font-size="17.5" textLength="55.00" lengthAdjust="spacingAndGlyphs" fill="#000">23-30°</text>
<text x="93.50" y="434.5" font-size="16" textLength="68.50" lengthAdjust="spacingAndGlyphs" fill="#000">Thursday</text>
<text x="107.50" y="458.5" font-size="17.5" textLength="43.50" lengthAdjust="spacingAndGlyphs" fill="#7f7f7f">22nd</text>
<text x="242.50" y="434.5" font-size="16" textLength="44.50" lengthAdjust="spacingAndGlyphs" fill="#000">Friday</text>
<text x="246.50" y="458.5" font-size="17.5" textLength="41.00" lengthAdjust="spacingAndGlyphs" fill="#7f7f7f">23rd</text>
<text x="369.50" y="434.5" font-size="16" textLength="69.00" lengthAdjust="spacingAndGlyphs" fill="#000" font-weight="bold">Saturday</text>
<text x="383.00" y="458.5" font-size="17.5" textLength="40.50" lengthAdjust="spacingAndGlyphs" fill="#7f7f7f">24th</text>
<text x="511.50" y="434.5" font-size="16" textLength="57.50" lengthAdjust="spacingAndGlyphs" fill="#000" font-weight="bold">Sunday</text>
<text x="519.50" y="458.5" font-size="17.5" textLength="40.00" lengthAdjust="spacingAndGlyphs" fill="#7f7f7f">25th</text>
<text x="644.50" y="434.5" font-size="16" textLength="58.50" lengthAdjust="spacingAndGlyphs" fill="#000">Monday</text>
<text x="656.00" y="458.5" font-size="17.5" textLength="40.50" lengthAdjust="spacingAndGlyphs" fill="#7f7f7f">26th</text>
<text x="780.50" y="434.5" font-size="16" textLength="62.00" lengthAdjust="spacingAndGlyphs" fill="#000">Tuesday</text>
<text x="792.50" y="458.5" font-size="17.5" textLength="40.50" lengthAdjust="spacingAndGlyphs" fill="#7f7f7f">27th</text>
<text x="904.50" y="434.5" font-size="16" textLength="85.50" lengthAdjust="spacingAndGlyphs" fill="#000">Wednesday</text>
<text x="929.00" y="458.5" font-size="17.5" textLength="40.50" lengthAdjust="spacingAndGlyphs" fill="#7f7f7f">28th</text>
<text x="893.00" y="401.5" font-size="11.5" textLength="117.80" lengthAdjust="spacingAndGlyphs" fill="#a9a9b4">www.seabreeze.com.au</text>
<text transform="translate(20,379) rotate(-90)" font-size="22.3" textLength="223" lengthAdjust="spacingAndGlyphs" fill="#000">Wave Height - Metres</text>
<text transform="translate(1059.2,162.8) rotate(90)" font-size="22.3" textLength="204.5" lengthAdjust="spacingAndGlyphs" fill="#000">Wind Speed - Knots</text>
</svg></body></html>
